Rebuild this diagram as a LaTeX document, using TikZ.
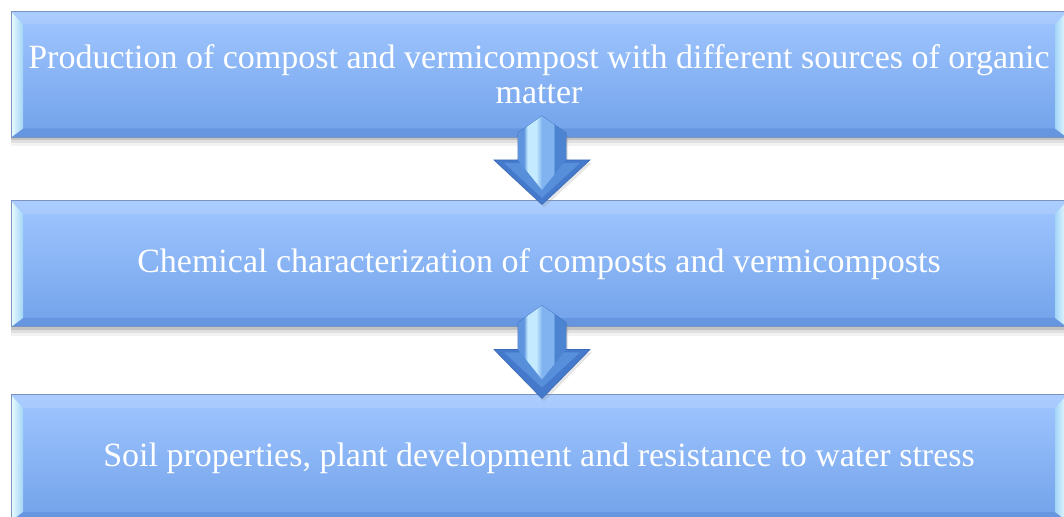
\documentclass[tikz,border=0pt]{standalone}
\usepackage{fontspec}
\setmainfont{Liberation Serif}
\usetikzlibrary{calc,shadows}

\definecolor{boxtop}{HTML}{A0C6FF}
\definecolor{boxbot}{HTML}{72A2EA}
\definecolor{boxrim}{HTML}{6696E0}
\definecolor{boxedge}{HTML}{7A94BF}
\definecolor{bevellight}{HTML}{ECFDFF}
\definecolor{bevelcyan}{HTML}{A2D4F6}
\definecolor{arrowdark}{HTML}{4479CB}
\definecolor{arrowedge}{HTML}{3A6AB5}
\definecolor{arrowmid}{HTML}{578FDB}
\definecolor{shaftA}{HTML}{5E95DE}
\definecolor{shaftB}{HTML}{C4EAFF}
\definecolor{shaftC}{HTML}{80B3EF}
\definecolor{shaftD}{HTML}{4D84D2}

% left-to-right facets of the arrow shaft
\pgfdeclarehorizontalshading{arrowshaft}{100bp}{color(0bp)=(shaftA); color(31bp)=(shaftA);
  color(35bp)=(shaftB); color(44bp)=(shaftB); color(50bp)=(shaftC); color(62bp)=(shaftC);
  color(63bp)=(shaftD); color(100bp)=(shaftD)}

\begin{document}
\begin{tikzpicture}[
    x=0.5pt, y=0.5pt,
    softshadow/.style={
      general shadow={fill=black, shadow xshift=0pt, shadow yshift=-1.5pt, opacity=.12},
      general shadow={fill=black, shadow xshift=0pt, shadow yshift=-3pt, opacity=.08},
      general shadow={fill=black, shadow xshift=0pt, shadow yshift=-4.5pt, opacity=.05}},
    stage/.style={draw=boxedge, line width=0.5pt, top color=boxtop, bottom color=boxbot,
      minimum width=528pt, minimum height=63pt, inner sep=0pt,
      text=white, align=center, font=\fontsize{17}{17.5}\selectfont,
      softshadow,
      path picture={
        \path (path picture bounding box.north west) coordinate (nw)
              (path picture bounding box.north east) coordinate (ne)
              (path picture bounding box.south west) coordinate (sw)
              (path picture bounding box.south east) coordinate (se);
        % bevelled frame
        \fill[boxrim] (sw) -- (se) -- ++(-6pt,4.5pt) -- ($(sw)+(6pt,4.5pt)$) -- cycle;
        \fill[white, opacity=.12] (nw) -- (ne) -- ++(-6pt,-6.5pt) -- ($(nw)+(6pt,-6.5pt)$) -- cycle;
        \shade[left color=bevellight, right color=bevelcyan]
          (nw) -- ++(6pt,-6.5pt) -- ($(sw)+(6pt,4.5pt)$) -- (sw) -- cycle;
        \shade[left color=bevelcyan, right color=bevellight]
          (ne) -- ++(-6pt,-6.5pt) -- ($(se)+(-6pt,4.5pt)$) -- (se) -- cycle;
      }},
    arrowbody/.style={fill=arrowdark, draw=arrowedge, line width=0.3pt,
      drop shadow={shadow xshift=1pt, shadow yshift=-1.5pt, opacity=.2}},
  ]
    \useasboundingbox (0,0) rectangle (1064,517);
    \clip (0,0) rectangle (1064,517);

    % === stages ===
    \node[stage] (prod) at (539,442.5)
      {Production of compost and vermicompost with different sources of organic\\matter};
    \node[stage] (chem) at (539,253)
      {Chemical characterization of composts and vermicomposts};
    \node[stage] (soil) at (539,59)
      {Soil properties, plant development and resistance to water stress};

    % === block arrows ===
    \foreach \a/\b in {prod/chem, chem/soil} {
      \coordinate (hb) at ($(\a.south)+(3,-22)$);
      \coordinate (tip) at ($(\b.north)+(3,-4)$);
      \begin{scope}[shift={(hb)}]
        \path[arrowbody] (-24,27) -- (0,44) -- (24,27) -- (24,0) -- (48,0)
          -- (tip) -- (-48,0) -- (-24,0) -- cycle;
        \fill[arrowmid] (-38,-3) -- (38,-3) -- (0,-38) -- cycle;
        \shade[shading=arrowshaft] (-24,27) -- (0,44) -- (24,27) -- (24,0)
          -- (0,-30) -- (-24,0) -- cycle;
      \end{scope}
    }
\end{tikzpicture}
\end{document}
